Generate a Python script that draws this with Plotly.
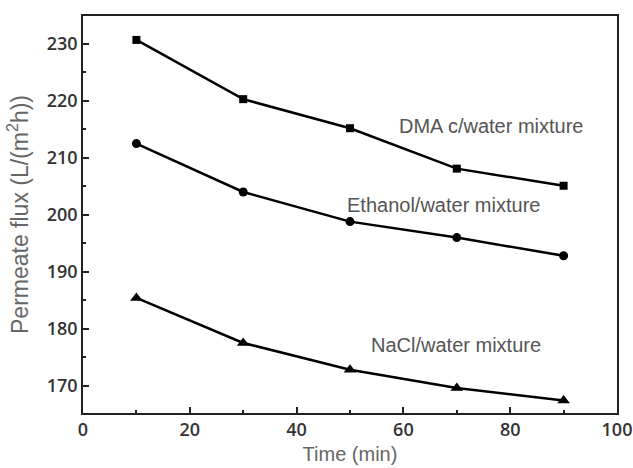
import plotly.graph_objects as go

time_min = [10, 30, 50, 70, 90]
dmac_flux = [230.7, 220.3, 215.2, 208.1, 205.1]
ethanol_flux = [212.5, 204.0, 198.8, 196.0, 192.8]
nacl_flux = [185.4, 177.5, 172.8, 169.6, 167.4]

series = [
    ("DMA c/water mixture", dmac_flux, "square", 8),
    ("Ethanol/water mixture", ethanol_flux, "circle", 9),
    ("NaCl/water mixture", nacl_flux, "triangle-up", 11),
]

fig = go.Figure()
for name, ys, sym, sz in series:
    fig.add_trace(go.Scatter(
        x=time_min, y=ys, mode="lines+markers", name=name,
        line=dict(color="black", width=2.5),
        marker=dict(symbol=sym, size=sz, color="black"),
        showlegend=False,
    ))

labels = [
    ("DMA c/water mixture", 76.4, 215.6),
    ("Ethanol/water mixture", 67.5, 201.7),
    ("NaCl/water mixture", 69.9, 177.1),
]
for txt, x, y in labels:
    fig.add_annotation(x=x, y=y, text=txt, showarrow=False,
                       font=dict(family="Liberation Sans, Arial", size=20, color="#555555"))

tickfont = dict(family="Open Sans, DejaVu Sans", size=18, color="#333333", weight=600)
fig.update_xaxes(
    range=[0, 100], tickvals=[0, 20, 40, 60, 80, 100],
    ticks="inside", ticklen=6, tickwidth=1.5, tickcolor="#222",
    minor=dict(ticks="inside", ticklen=3, tickwidth=1.5, tickcolor="#222", dtick=10, tick0=0),
    showline=True, linecolor="#222", linewidth=1.5, mirror=True,
    showgrid=False, zeroline=False, tickfont=tickfont, automargin=False,
    title=dict(text="Time (min)", font=dict(family="Liberation Sans, Arial", size=20, color="#666666"), standoff=7),
)
fig.update_yaxes(
    range=[165.2, 234.9], tickvals=[170, 180, 190, 200, 210, 220, 230],
    ticks="inside", ticklen=6, tickwidth=1.5, tickcolor="#222",
    minor=dict(ticks="inside", ticklen=3, tickwidth=1.5, tickcolor="#222", dtick=5, tick0=0),
    showline=True, linecolor="#222", linewidth=1.5, mirror=True,
    showgrid=False, zeroline=False, tickfont=tickfont, automargin=False,
    title=dict(text="Permeate flux (L/(m<sup>2</sup>h))", font=dict(family="Liberation Sans, Arial", size=23, color="#666666"), standoff=12),
)
fig.update_layout(
    width=633, height=468,
    margin=dict(l=83, r=16, t=16, b=55),
    plot_bgcolor="white", paper_bgcolor="white",
)
fig.write_html(
    "out.html",
    config={"displayModeBar": False},
    post_script="document.body.style.margin='0';document.body.style.overflow='hidden';",
)
